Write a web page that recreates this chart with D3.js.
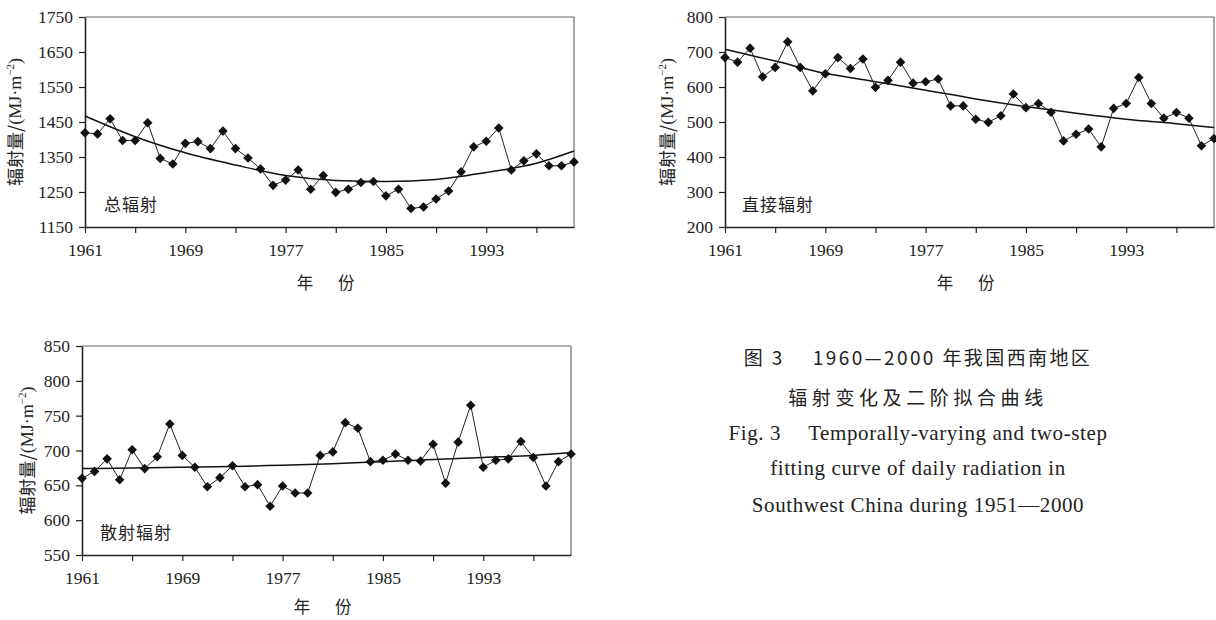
<!DOCTYPE html>
<html>
<head>
<meta charset="utf-8">
<script src="https://cdn.jsdelivr.net/npm/d3@7/dist/d3.min.js"></script>
<style>
  body { margin: 0; background: #fff; }
  svg { display: block; }
  .tick-label { font-family: "Liberation Serif", "DejaVu Serif", serif; font-size: 17.5px; fill: #222; }
  .cjk { font-family: "Noto Sans CJK SC", sans-serif; fill: #222; }
  .ytitle { -webkit-font-smoothing: antialiased; text-rendering: geometricPrecision; }
</style>
</head>
<body>
<div id="chart"></div>
<script>
// years 1961-2000
const years = d3.range(1961, 2001);
const xTicks = [1961, 1965, 1969, 1973, 1977, 1981, 1985, 1989, 1993, 1997];
const xTickLabels = ["1961", "", "1969", "", "1977", "", "1985", "", "1993", ""];
const fitYears = [1961, 1965, 1969, 1973, 1977, 1981, 1985, 1989, 1993, 1997, 2000];

// 总辐射
const totalValues = [1419, 1416, 1459, 1397, 1397, 1448, 1346, 1330, 1389, 1394,
  1374, 1424, 1374, 1347, 1316, 1269, 1284, 1313, 1258, 1297,
  1249, 1258, 1277, 1280, 1239, 1258, 1203, 1207, 1230, 1253,
  1308, 1379, 1395, 1433, 1313, 1339, 1359, 1325, 1325, 1336];
const totalFit = [1467, 1408, 1362, 1327, 1297, 1283, 1280, 1286, 1306, 1332, 1367];
const totalTicks = [1150, 1250, 1350, 1450, 1550, 1650, 1750];

// 直接辐射
const directValues = [684, 671, 711, 629, 656, 729, 656, 589, 638, 684,
  653, 680, 599, 619, 671, 611, 615, 623, 546, 546,
  508, 499, 518, 580, 541, 553, 528, 446, 465, 480,
  429, 539, 553, 627, 553, 511, 527, 511, 432, 453];
const directFit = [708, 674, 639, 615, 591, 566, 544, 525, 508, 495, 484];
const directTicks = [200, 300, 400, 500, 600, 700, 800];

// 散射辐射
const diffuseValues = [660, 670, 688, 658, 701, 674, 691, 738, 693, 676,
  648, 661, 678, 648, 651, 620, 649, 639, 639, 693,
  698, 740, 732, 684, 686, 695, 686, 685, 709, 653,
  712, 765, 676, 686, 688, 713, 690, 649, 684, 695];
const diffuseFit = [674, 675, 676, 677, 679, 681, 684, 687, 690, 693, 697];
const diffuseTicks = [550, 600, 650, 700, 750, 800, 850];

const captionLines = [
  "图 3\u2003 1960—2000 年我国西南地区",
  "辐射变化及二阶拟合曲线",
  "Fig. 3\u2003 Temporally-varying and two-step",
  "fitting curve of daily radiation in",
  "Southwest China during 1951—2000"
];

const svg = d3.select("#chart").append("svg")
  .attr("width", 1216).attr("height", 620);

function drawPanel(opt) {
  const x = d3.scaleLinear().domain([1961, 2000]).range([opt.left, opt.right]);
  const y = d3.scaleLinear().domain(opt.domain).range([opt.bottom, opt.top]);
  const g = svg.append("g");

  // frame: top and right in gray
  g.append("line").attr("x1", opt.left).attr("x2", opt.right)
    .attr("y1", opt.top).attr("y2", opt.top)
    .attr("stroke", "#666").attr("stroke-width", 1.2);
  g.append("line").attr("x1", opt.right).attr("x2", opt.right)
    .attr("y1", opt.top).attr("y2", opt.bottom)
    .attr("stroke", "#888").attr("stroke-width", 1.5);

  // y axis
  const yAxis = g.append("g").attr("transform", `translate(${opt.left},0)`)
    .call(d3.axisLeft(y).tickValues(opt.ticks).tickFormat(d3.format("d"))
      .tickSize(6).tickPadding(6).tickSizeOuter(0));
  yAxis.select(".domain").attr("stroke", "#222").attr("stroke-width", 1.6);
  yAxis.selectAll(".tick line").attr("stroke", "#222").attr("stroke-width", 1.2);
  yAxis.selectAll(".tick text").attr("class", "tick-label").attr("font-size", null).attr("font-family", null);

  // x axis
  const xAxis = g.append("g").attr("transform", `translate(0,${opt.bottom})`)
    .call(d3.axisBottom(x).tickValues(xTicks).tickSize(6).tickPadding(11).tickSizeOuter(0)
      .tickFormat((d, i) => xTickLabels[i]));
  xAxis.select(".domain").attr("stroke", "#222").attr("stroke-width", 1.6);
  xAxis.selectAll(".tick line").attr("stroke", "#222").attr("stroke-width", 1.2);
  xAxis.selectAll(".tick text").attr("class", "tick-label").attr("font-size", null).attr("font-family", null);

  // fitted curve
  const fitLine = d3.line().x(d => x(d[0])).y(d => y(d[1])).curve(d3.curveMonotoneX);
  g.append("path").datum(d3.zip(fitYears, opt.fit))
    .attr("fill", "none").attr("stroke", "#111").attr("stroke-width", 1.5).attr("d", fitLine);

  // data line
  const dataLine = d3.line().x(d => x(d[0])).y(d => y(d[1]));
  const pts = d3.zip(years, opt.values);
  g.append("path").datum(pts)
    .attr("fill", "none").attr("stroke", "#222").attr("stroke-width", 1).attr("d", dataLine);

  // diamond markers
  g.selectAll(".mk").data(pts).enter().append("path")
    .attr("class", "mk")
    .attr("d", d3.symbol(d3.symbolSquare, 46))
    .attr("transform", d => `translate(${x(d[0])},${y(d[1])}) rotate(45)`)
    .attr("fill", "#111");

  // series name
  g.append("text").attr("class", "cjk")
    .attr("x", opt.left + opt.nameDx).attr("y", opt.bottom - 16)
    .attr("font-size", 17).attr("letter-spacing", 1)
    .text(opt.name);

  // y title
  const yt = g.append("text").attr("class", "cjk ytitle")
    .attr("transform", `translate(${opt.yTitleX},${(opt.top + opt.bottom) / 2}) rotate(-90)`)
    .attr("text-anchor", "middle").attr("dominant-baseline", "middle")
    .attr("font-size", 18);
  yt.append("tspan").attr("fill", "#222").text("辐射量/");
  yt.append("tspan").attr("font-family", "Liberation Serif, serif").text("(MJ·m");
  yt.append("tspan").attr("font-family", "Liberation Serif, serif").attr("font-size", 11)
    .attr("baseline-shift", "super").text("−2");
  yt.append("tspan").attr("font-family", "Liberation Serif, serif").text(")");

  // x title
  g.append("text").attr("class", "cjk")
    .attr("x", (opt.left + opt.right) / 2 - 4).attr("y", opt.bottom + opt.xTitleDy)
    .attr("text-anchor", "middle").attr("font-size", 16.5)
    .text("年\u3000\u2002份");
}

drawPanel({ left: 85, right: 574, top: 17, bottom: 227, domain: [1150, 1750],
  ticks: totalTicks, values: totalValues, fit: totalFit, name: "总辐射", nameDx: 19,
  yTitleX: 17, xTitleDy: 62 });
drawPanel({ left: 725, right: 1214, top: 17, bottom: 227, domain: [200, 800],
  ticks: directTicks, values: directValues, fit: directFit, name: "直接辐射", nameDx: 17,
  yTitleX: 669, xTitleDy: 62 });
drawPanel({ left: 82, right: 571, top: 346, bottom: 555, domain: [550, 850],
  ticks: diffuseTicks, values: diffuseValues, fit: diffuseFit, name: "散射辐射", nameDx: 18,
  yTitleX: 29, xTitleDy: 58 });

// caption
const capY = [365, 405, 440, 475, 512];
captionLines.forEach((t, i) => {
  const isCjk = i < 2;
  svg.append("text")
    .attr("x", 918).attr("y", capY[i])
    .attr("text-anchor", "middle")
    .attr("font-family", isCjk ? "Noto Sans CJK SC, sans-serif" : "Liberation Serif, serif")
    .attr("font-size", isCjk ? 19 : 21)
    .attr("letter-spacing", isCjk ? (i === 1 ? 4.6 : 2.4) : 0.6)
    .attr("fill", "#222")
    .text(t);
});
</script>
</body>
</html>
